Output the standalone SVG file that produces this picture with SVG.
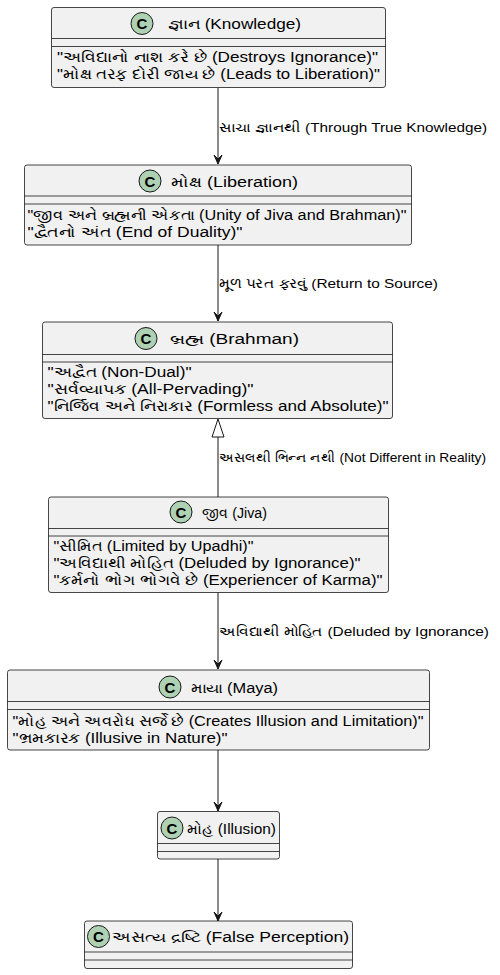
<svg xmlns="http://www.w3.org/2000/svg" width="500" height="975" viewBox="0 0 500 975">
<style>
.box{fill:#F1F1F1;stroke:#181818;stroke-width:0.8}
.sep{stroke:#181818;stroke-width:0.8}
.circ{fill:#ADD1B2;stroke:#181818;stroke-width:1}
.cl{font-family:"Liberation Sans",Arial,sans-serif;font-size:15px;font-weight:bold;fill:#000;text-anchor:middle}
.t{font-family:"Liberation Sans","Noto Sans",sans-serif;font-size:14px;fill:#000}
.a{font-family:"Liberation Sans","Noto Sans",sans-serif;font-size:14px;fill:#000}
.lb{font-family:"Liberation Sans","Noto Sans",sans-serif;font-size:13px;fill:#000}
.ln{stroke:#181818;stroke-width:1;fill:none}
.ah{fill:#181818;stroke:#181818;stroke-width:1}
</style>
<rect width="500" height="975" fill="#FFFFFF"/>
<g id="connectors">
<line class="ln" x1="218" y1="88" x2="218" y2="164"/>
<polygon class="ah" points="214,155 218,164 222,155 218,159"/>
<text class="lb" x="219" y="132" textLength="268" lengthAdjust="spacingAndGlyphs">સાચા જ્ઞાનથી (Through True Knowledge)</text>
<line class="ln" x1="218" y1="245" x2="218" y2="321"/>
<polygon class="ah" points="214,312 218,321 222,312 218,316"/>
<text class="lb" x="219" y="288" textLength="219" lengthAdjust="spacingAndGlyphs">મૂળ પરત ફરવું (Return to Source)</text>
<line class="ln" x1="218" y1="437" x2="218" y2="497"/>
<polygon points="218,419 212,437 224,437" fill="#FFFFFF" stroke="#181818" stroke-width="1"/>
<text class="lb" x="219" y="462" textLength="267" lengthAdjust="spacingAndGlyphs">અસલથી ભિન્ન નથી (Not Different in Reality)</text>
<line class="ln" x1="218" y1="592" x2="218" y2="669"/>
<polygon class="ah" points="214,660 218,669 222,660 218,664"/>
<text class="lb" x="219" y="636" textLength="270" lengthAdjust="spacingAndGlyphs">અવિદ્યાથી મોહિત (Deluded by Ignorance)</text>
<line class="ln" x1="218" y1="750" x2="218" y2="811"/>
<polygon class="ah" points="214,802 218,811 222,802 218,806"/>
<line class="ln" x1="218" y1="859" x2="218" y2="921"/>
<polygon class="ah" points="214,912 218,921 222,912 218,916"/>
</g>
<g id="knowledge">
<rect class="box" x="51.5" y="7.5" width="334" height="80" rx="2.5"/>
<circle class="circ" cx="142" cy="23.5" r="11"/>
<text class="cl" x="142" y="29">C</text>
<text class="t" x="168" y="29" textLength="133" lengthAdjust="spacingAndGlyphs">જ્ઞાન (Knowledge)</text>
<line class="sep" x1="51.5" y1="38.5" x2="385.5" y2="38.5"/>
<line class="sep" x1="51.5" y1="46.5" x2="385.5" y2="46.5"/>
<text class="a" x="57" y="62" textLength="321" lengthAdjust="spacingAndGlyphs">"અવિદ્યાનો નાશ કરે છે (Destroys Ignorance)"</text>
<text class="a" x="57" y="79" textLength="323" lengthAdjust="spacingAndGlyphs">"મોક્ષ તરફ દોરી જાય છે (Leads to Liberation)"</text>
</g>
<g id="liberation">
<rect class="box" x="24.5" y="165" width="387" height="80" rx="2.5"/>
<circle class="circ" cx="150" cy="181" r="11"/>
<text class="cl" x="150" y="186.5">C</text>
<text class="t" x="171" y="186.5" textLength="127" lengthAdjust="spacingAndGlyphs">મોક્ષ (Liberation)</text>
<line class="sep" x1="24.5" y1="196" x2="411.5" y2="196"/>
<line class="sep" x1="24.5" y1="204" x2="411.5" y2="204"/>
<text class="a" x="27.5" y="220" textLength="379" lengthAdjust="spacingAndGlyphs">"જીવ અને બ્રહ્મની એકતા (Unity of Jiva and Brahman)"</text>
<text class="a" x="27.5" y="237" textLength="215" lengthAdjust="spacingAndGlyphs">"દ્વૈતનો અંત (End of Duality)"</text>
</g>
<g id="brahman">
<rect class="box" x="42.5" y="322" width="350" height="96.5" rx="2.5"/>
<circle class="circ" cx="146" cy="338.5" r="11"/>
<text class="cl" x="146" y="344">C</text>
<text class="t" x="170" y="344" textLength="129" lengthAdjust="spacingAndGlyphs">બ્રહ્મ (Brahman)</text>
<line class="sep" x1="42.5" y1="354.5" x2="392.5" y2="354.5"/>
<line class="sep" x1="42.5" y1="362" x2="392.5" y2="362"/>
<text class="a" x="47.5" y="377" textLength="144" lengthAdjust="spacingAndGlyphs">"અદ્વૈત (Non-Dual)"</text>
<text class="a" x="47.5" y="394" textLength="206" lengthAdjust="spacingAndGlyphs">"સર્વવ્યાપક (All-Pervading)"</text>
<text class="a" x="47.5" y="411" textLength="341" lengthAdjust="spacingAndGlyphs">"નિર્જિવ અને નિરાકાર (Formless and Absolute)"</text>
</g>
<g id="jiva">
<rect class="box" x="48.5" y="497" width="340" height="95.5" rx="2.5"/>
<circle class="circ" cx="181" cy="512" r="11"/>
<text class="cl" x="181" y="517.5">C</text>
<text class="t" x="202" y="517.5" textLength="65" lengthAdjust="spacingAndGlyphs">જીવ (Jiva)</text>
<line class="sep" x1="48.5" y1="528.5" x2="388.5" y2="528.5"/>
<line class="sep" x1="48.5" y1="536" x2="388.5" y2="536"/>
<text class="a" x="53.5" y="551" textLength="200" lengthAdjust="spacingAndGlyphs">"સીમિત (Limited by Upadhi)"</text>
<text class="a" x="53.5" y="568" textLength="307" lengthAdjust="spacingAndGlyphs">"અવિદ્યાથી મોહિત (Deluded by Ignorance)"</text>
<text class="a" x="53.5" y="585" textLength="329" lengthAdjust="spacingAndGlyphs">"કર્મનો ભોગ ભોગવે છે (Experiencer of Karma)"</text>
</g>
<g id="maya">
<rect class="box" x="7.5" y="670" width="422" height="80" rx="2.5"/>
<circle class="circ" cx="170" cy="687" r="11"/>
<text class="cl" x="170" y="692.5">C</text>
<text class="t" x="191" y="692.5" textLength="87" lengthAdjust="spacingAndGlyphs">માયા (Maya)</text>
<line class="sep" x1="7.5" y1="701.5" x2="429.5" y2="701.5"/>
<line class="sep" x1="7.5" y1="709.5" x2="429.5" y2="709.5"/>
<text class="a" x="12.5" y="726" textLength="411" lengthAdjust="spacingAndGlyphs">"મોહ અને અવરોધ સર્જે છે (Creates Illusion and Limitation)"</text>
<text class="a" x="12.5" y="743" textLength="215" lengthAdjust="spacingAndGlyphs">"ભ્રમકારક (Illusive in Nature)"</text>
</g>
<g id="illusion">
<rect class="box" x="157.5" y="811.5" width="122" height="47.5" rx="2.5"/>
<circle class="circ" cx="172" cy="828" r="11"/>
<text class="cl" x="172" y="833.5">C</text>
<text class="t" x="187" y="833.5" textLength="89" lengthAdjust="spacingAndGlyphs">મોહ (Illusion)</text>
<line class="sep" x1="157.5" y1="843.5" x2="279.5" y2="843.5"/>
<line class="sep" x1="157.5" y1="851.5" x2="279.5" y2="851.5"/>
</g>
<g id="falseperception">
<rect class="box" x="84.5" y="921" width="268" height="47.5" rx="2.5"/>
<circle class="circ" cx="98.5" cy="936.5" r="11"/>
<text class="cl" x="98.5" y="942">C</text>
<text class="t" x="112" y="942" textLength="237" lengthAdjust="spacingAndGlyphs">અસત્ય દ્રષ્ટિ (False Perception)</text>
<line class="sep" x1="84.5" y1="952" x2="352.5" y2="952"/>
<line class="sep" x1="84.5" y1="960" x2="352.5" y2="960"/>
</g>
</svg>
